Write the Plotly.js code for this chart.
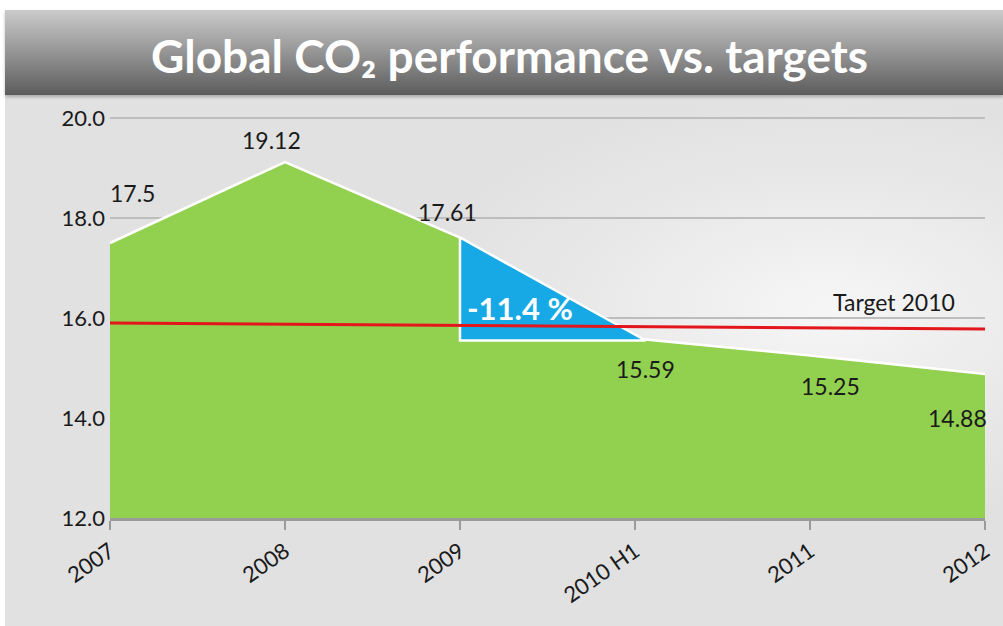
<!DOCTYPE html>
<html><head><meta charset="utf-8">
<script src="https://cdn.plot.ly/plotly-3.0.1.min.js"></script>
<style>
html,body{margin:0;padding:0;background:#fff;width:1003px;height:626px;overflow:hidden;}
#bg{position:absolute;left:5px;top:10px;width:998px;height:616px;
 background:radial-gradient(ellipse 420px 220px at 820px 300px,#f6f6f6 0%,#e8e8e8 60%,#e1e1e1 100%);}
#banner{position:absolute;left:5px;top:10px;width:998px;height:85px;
 background:linear-gradient(#cbcbcb 0%,#9a9a9a 45%,#5c5c5c 100%);box-shadow:0 2px 3px rgba(0,0,0,0.25);}
#chart{position:absolute;left:0;top:0;width:1003px;height:626px;}
</style></head>
<body>
<div id="bg"></div><div id="banner"></div>
<div id="chart"></div>
<script>
var categories = ["2007","2008","2009","2010 H1","2011","2012"];
var xIndex = [0,1,2,3,4,5];
var values = [17.5,19.12,17.61,15.59,15.25,14.88];
var targetX = [0,5];
var targetY = [15.9,15.78];
var triangleX = [2,2,3.06,2];
var triangleY = [17.61,15.55,15.55,17.61];
var yTicks = [12,14,16,18,20];

var FONT = "Lato, 'Open Sans', sans-serif";
var labelShift = [[22,50],[-14,22],[-13,26],[10,-30],[20,-30],[-28,-44]];
var annotations = values.map(function(v,i){
  return {x:xIndex[i], y:v, text:v.toString(), showarrow:false,
    xshift:labelShift[i][0], yshift:labelShift[i][1],
    font:{family:FONT, size:23, color:"#1a1a1a"}};
});
annotations.push({x:2.34, y:16.2, text:"<b>-11.4 %</b>", showarrow:false,
  font:{family:FONT, size:31, color:"#ffffff"}});
annotations.push({x:4.48, y:16.32, text:"Target 2010", showarrow:false,
  font:{family:FONT, size:23, color:"#1a1a1a"}});

var traces = [
  {x:xIndex, y:values, type:"scatter", mode:"lines", fill:"tozeroy",
   fillcolor:"#92d050", line:{color:"#ffffff", width:2.5}, hoverinfo:"skip"},
  {x:triangleX, y:triangleY, type:"scatter", mode:"lines", fill:"toself",
   fillcolor:"#16a9e6", line:{color:"#ffffff", width:2.5}, hoverinfo:"skip"},
  {x:targetX, y:targetY, type:"scatter", mode:"lines",
   line:{color:"#e3161b", width:3}, hoverinfo:"skip"}
];

var layout = {
  width:1003, height:626,
  paper_bgcolor:"rgba(0,0,0,0)", plot_bgcolor:"rgba(0,0,0,0)",
  margin:{l:110, r:18, t:116, b:108},
  showlegend:false,
  title:{text:"<b>Global CO₂ performance vs. targets</b>", x:0.508, xanchor:"center",
    y:0.909, yanchor:"middle",
    font:{family:FONT, size:46, color:"#ffffff"}},
  xaxis:{range:[0,5], tickvals:xIndex, ticktext:categories, tickangle:-35,
    showgrid:false, zeroline:false, showline:true, linecolor:"#9a9a9a", linewidth:3,
    ticks:"outside", ticklen:9, tickwidth:2, tickcolor:"#9a9a9a",
    tickfont:{family:FONT, size:22, color:"#1a1a1a"}},
  yaxis:{range:[12,20.04], tickvals:yTicks, tickformat:".1f", showgrid:true,
    gridcolor:"#bdbdbd", gridwidth:2, zeroline:false, showline:false, ticks:"",
    ticklabelstandoff:4,
    tickfont:{family:FONT, size:22, color:"#1a1a1a"}},
  annotations:annotations
};
Plotly.newPlot("chart", traces, layout, {displayModeBar:false, staticPlot:true});
</script>
</body></html>
